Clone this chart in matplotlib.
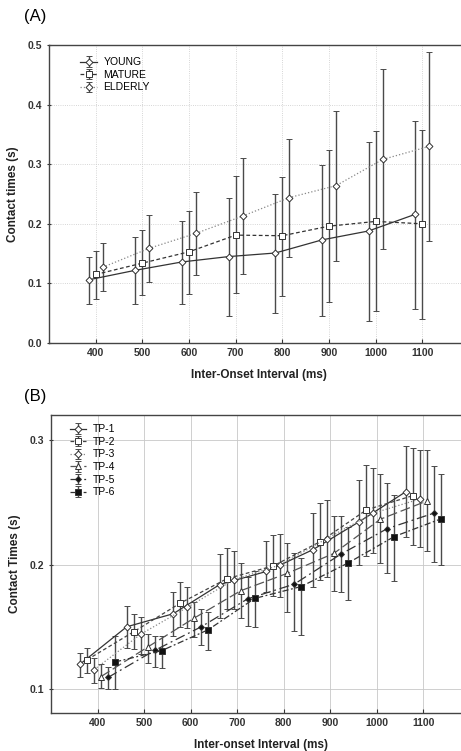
import numpy as np
import matplotlib.pyplot as plt

plt.rcParams['font.family'] = ['Liberation Sans', 'DejaVu Sans']

# ---- panel A data ----
ioi = np.array([400, 500, 600, 700, 800, 900, 1000, 1100])
young = [0.106, 0.122, 0.136, 0.145, 0.151, 0.173, 0.188, 0.216]
young_hi = [0.144, 0.178, 0.205, 0.243, 0.250, 0.299, 0.338, 0.373]
young_lo = [0.065, 0.066, 0.066, 0.046, 0.050, 0.046, 0.037, 0.057]
mature = [0.115, 0.134, 0.153, 0.181, 0.180, 0.196, 0.204, 0.200]
mature_hi = [0.154, 0.190, 0.222, 0.280, 0.278, 0.323, 0.355, 0.358]
mature_lo = [0.074, 0.080, 0.082, 0.084, 0.079, 0.069, 0.054, 0.040]
elderly = [0.127, 0.159, 0.184, 0.213, 0.244, 0.264, 0.308, 0.330]
elderly_hi = [0.167, 0.215, 0.253, 0.310, 0.343, 0.390, 0.459, 0.488]
elderly_lo = [0.087, 0.103, 0.114, 0.115, 0.145, 0.137, 0.158, 0.171]

# ---- panel B data ----
tp1 = [0.120, 0.150, 0.1605, 0.184, 0.1945, 0.212, 0.2346, 0.2587]
tp1_hi = [0.129, 0.167, 0.178, 0.2085, 0.2186, 0.2414, 0.268, 0.295]
tp1_lo = [0.110, 0.133, 0.143, 0.157, 0.178, 0.182, 0.1996, 0.2226]
tp2 = [0.1235, 0.146, 0.169, 0.1886, 0.199, 0.2183, 0.244, 0.2555]
tp2_hi = [0.133, 0.160, 0.186, 0.213, 0.2237, 0.2494, 0.280, 0.2936]
tp2_lo = [0.113, 0.132, 0.150, 0.164, 0.1744, 0.1873, 0.2066, 0.216]
tp3 = [0.1155, 0.144, 0.1656, 0.1878, 0.1998, 0.221, 0.2414, 0.2528]
tp3_hi = [0.125, 0.158, 0.182, 0.211, 0.2248, 0.252, 0.2775, 0.292]
tp3_lo = [0.105, 0.128, 0.149, 0.164, 0.174, 0.190, 0.209, 0.2138]
tp4 = [0.110, 0.1337, 0.157, 0.179, 0.193, 0.209, 0.2365, 0.2512]
tp4_hi = [0.120, 0.144, 0.170, 0.201, 0.2173, 0.239, 0.273, 0.292]
tp4_lo = [0.101, 0.121, 0.142, 0.157, 0.1616, 0.179, 0.201, 0.2106]
tp5 = [0.1093, 0.131, 0.150, 0.1725, 0.1843, 0.2084, 0.229, 0.2414]
tp5_hi = [0.118, 0.143, 0.164, 0.190, 0.209, 0.2387, 0.2655, 0.2794]
tp5_lo = [0.100, 0.118, 0.135, 0.151, 0.147, 0.1776, 0.193, 0.2025]
tp6 = [0.1217, 0.1308, 0.1476, 0.1728, 0.1824, 0.2012, 0.2226, 0.2368]
tp6_hi = [0.143, 0.143, 0.162, 0.195, 0.205, 0.2306, 0.256, 0.273]
tp6_lo = [0.100, 0.117, 0.131, 0.150, 0.1436, 0.1717, 0.187, 0.200]

fig = plt.figure(figsize=(4.61, 7.51), dpi=100)
tick_kw = dict(labelsize=7.5, colors='#333333', width=0.8, length=3)


def style_axes(ax, grid_ls):
    ax.set_xlim(300, 1200)
    ax.set_xticks(ioi)
    ax.grid(True, color='#c8c8c8', linestyle=grid_ls, linewidth=0.6)
    ax.set_axisbelow(True)
    ax.tick_params(axis='x', direction='in', **tick_kw)
    ax.tick_params(axis='y', direction='inout', **tick_kw)
    for lab in ax.get_xticklabels() + ax.get_yticklabels():
        lab.set_fontweight('bold')
    for s in ax.spines.values():
        s.set_color('#444444')
        s.set_linewidth(1.0)


def draw(ax, x, y, lo, hi, marker, ls, lc, mfc, ms, label):
    y = np.array(y)
    err = [y - np.array(lo), np.array(hi) - y]
    return ax.errorbar(x, y, yerr=err, fmt=marker, linestyle=ls, color=lc,
                       ecolor='#4a4a4a', elinewidth=1.0, capsize=2.5, capthick=0.8,
                       markersize=ms, markerfacecolor=mfc, markeredgecolor='#333333',
                       markeredgewidth=0.7, linewidth=0.9, label=label)


# ---- panel A ----
axA = fig.add_axes([49 / 461, 1 - 343 / 751, 420 / 461, 298 / 751])
draw(axA, ioi - 15, young, young_lo, young_hi, 'D', '-', '#333333', 'white', 3.5, 'YOUNG')
draw(axA, ioi, mature, mature_lo, mature_hi, 's', (0, (3, 2)), '#333333', 'white', 4.5, 'MATURE')
draw(axA, ioi + 15, elderly, elderly_lo, elderly_hi, 'D', ':', '#888888', 'white', 3.5, 'ELDERLY')
axA.set_ylim(0, 0.5)
axA.set_yticks([0.0, 0.1, 0.2, 0.3, 0.4, 0.5])
axA.set_yticklabels(['0.0', '0.1', '0.2', '0.3', '0.4', '0.5'])
style_axes(axA, ':')
axA.set_xlabel('Inter-Onset Interval (ms)', fontsize=8.5, fontweight='bold', color='#222222', labelpad=8)
axA.set_ylabel('Contact times (s)', fontsize=8.5, fontweight='bold', color='#222222', labelpad=6)
axA.legend(loc='upper left', bbox_to_anchor=(0.06, 0.98), frameon=False, fontsize=7.5,
           handlelength=1.6, handletextpad=0.6, labelspacing=0.25, borderaxespad=0.2)
fig.text(24 / 461, 1 - 17 / 751, '(A)', fontsize=12, va='center', ha='left')

# ---- panel B ----
axB = fig.add_axes([51 / 461, 1 - 713 / 751, 419 / 461, 298 / 751])
offs = [-37.5, -22.5, -7.5, 7.5, 22.5, 37.5]
draw(axB, ioi + offs[0], tp1, tp1_lo, tp1_hi, 'D', '-', '#333333', 'white', 3.5, 'TP-1')
draw(axB, ioi + offs[1], tp2, tp2_lo, tp2_hi, 's', (0, (3, 2)), '#444444', 'white', 4.5, 'TP-2')
draw(axB, ioi + offs[2], tp3, tp3_lo, tp3_hi, 'D', ':', '#888888', 'white', 3.5, 'TP-3')
draw(axB, ioi + offs[3], tp4, tp4_lo, tp4_hi, '^', (0, (8, 3)), '#555555', 'white', 4, 'TP-4')
draw(axB, ioi + offs[4], tp5, tp5_lo, tp5_hi, 'D', (0, (8, 3, 1.5, 3)), '#333333', '#111111', 3, 'TP-5')
draw(axB, ioi + offs[5], tp6, tp6_lo, tp6_hi, 's', (0, (5, 2, 1.5, 2)), '#333333', '#111111', 4.5, 'TP-6')
axB.set_ylim(0.0807, 0.3203)
axB.set_yticks([0.1, 0.2, 0.3])
axB.set_yticklabels(['0.1', '0.2', '0.3'])
style_axes(axB, '-')
axB.set_xlabel('Inter-onset Interval (ms)', fontsize=8.5, fontweight='bold', color='#222222', labelpad=8)
axB.set_ylabel('Contact Times (s)', fontsize=8.5, fontweight='bold', color='#222222', labelpad=6)
axB.legend(loc='upper left', bbox_to_anchor=(0.03, 0.99), frameon=False, fontsize=7.5,
           handlelength=1.6, handletextpad=0.6, labelspacing=0.25, borderaxespad=0.2)
fig.text(24 / 461, 1 - 397 / 751, '(B)', fontsize=12, va='center', ha='left')

fig.savefig('out.png', dpi=100)
